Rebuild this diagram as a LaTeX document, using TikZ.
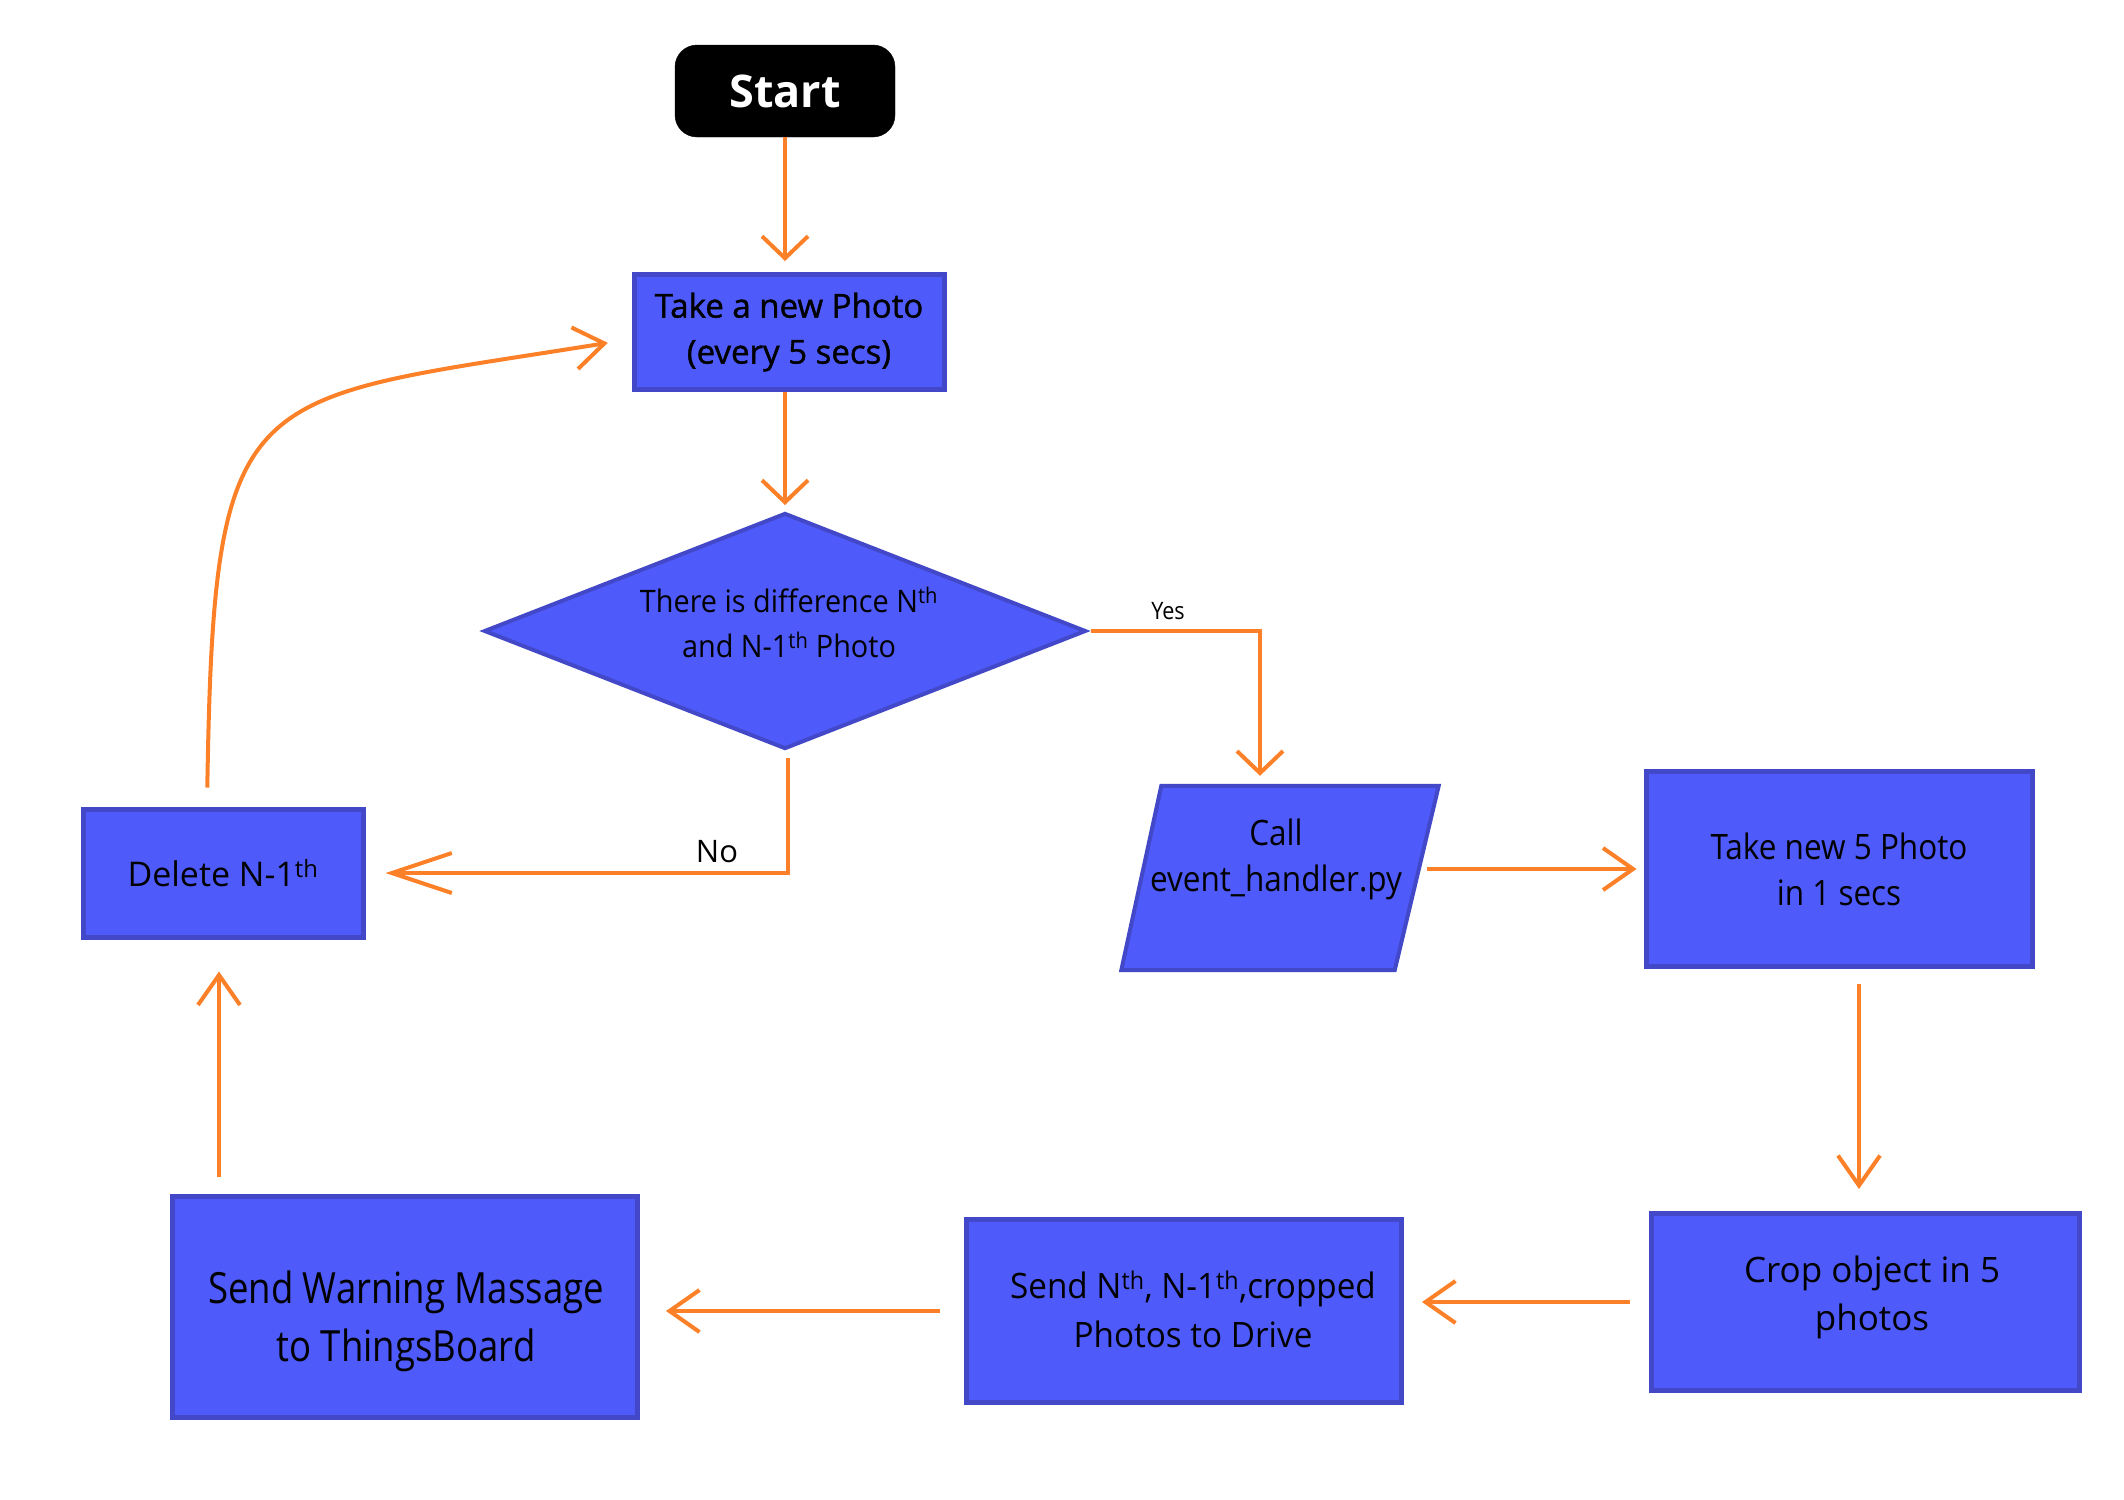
\documentclass[tikz,border=0pt]{standalone}
\usepackage{fontspec}
\setmainfont{Open Sans}
\newfontfamily\condfont[FakeStretch=0.9]{Open Sans}
\newfontfamily\semifont[FakeBold=1.2]{Open Sans}
\usetikzlibrary{arrows.meta,shapes.geometric,calc}
\definecolor{boxfill}{RGB}{78,91,250}
\definecolor{boxline}{RGB}{66,72,200}
\definecolor{flow}{RGB}{252,128,40}
\tikzset{
  procbox/.style={rectangle, fill=boxfill, draw=boxline, line width=5pt, inner sep=0pt, align=center},
  label/.style={align=center, inner sep=0pt},
  flowline/.style={draw=flow, line width=4pt, -{Straight Barb[length=30pt,width=42pt]}},
  shorttip/.style={-{Straight Barb[length=22pt,width=46pt]}},
  longtip/.style={-{Straight Barb[length=60pt,width=40pt]}},
}
\begin{document}
\begin{tikzpicture}[x=1pt,y=-1pt]
\useasboundingbox[fill=white] (0,0) rectangle (2124,1499);

% start terminal
\node[fill=black, draw=black, rounded corners=22pt, minimum width=220pt, minimum height=92pt,
      text=white, font=\bfseries\fontsize{45}{54}\selectfont] (start) at (785,91) {Start};

% photo step
\node[procbox, minimum width=310pt, minimum height=115pt, font=\semifont\fontsize{33}{46}\selectfont]
  (take) at (789,332) {Take a new Photo\\(every 5 secs)};

% decision
\node[diamond, aspect=2.55, fill=boxfill, draw=boxline, line width=4pt, inner sep=0pt,
      minimum width=602pt, minimum height=236pt] (dec) at (785,631) {};
\node[label, font=\addfontfeatures{FakeStretch=0.93}\fontsize{31}{45}\selectfont] (dectext) at (789,622)
  {There is difference N\textsuperscript{th}\\and N-1\textsuperscript{th} Photo};

\node[procbox, minimum width=280pt, minimum height=128pt, font=\fontsize{34}{46}\selectfont]
  (del) at (223,873) {Delete N-1\textsuperscript{th}};

% input/output step: parallelogram around an invisible frame node
\node[rectangle, inner sep=0pt, minimum width=275pt, minimum height=184pt] (call) at (1279,878) {};
\filldraw[fill=boxfill, draw=boxline, line width=4pt, line join=miter]
  ($(call.north west)+(20,0)$) -- ($(call.north east)+(22,0)$)
  -- ($(call.south east)+(-22,0)$) -- ($(call.south west)+(-20,0)$) -- cycle;
\node[label, font=\condfont\fontsize{35}{46}\selectfont] (calltext) at (1276,859)
  {Call\\event\_handler.py};

\node[procbox, minimum width=386pt, minimum height=195pt, font=\condfont\fontsize{35}{46}\selectfont]
  (take5) at (1839,869) {Take new 5 Photo\\in 1 secs};

\node[procbox, minimum width=428pt, minimum height=177pt] (crop) at (1865,1302) {};
\node[label, font=\fontsize{35}{48}\selectfont] (croptext) at (1872,1297) {Crop object in 5\\photos};

\node[procbox, minimum width=435pt, minimum height=183pt] (send) at (1184,1311) {};
\node[label, font=\addfontfeatures{FakeStretch=0.95}\fontsize{35}{49}\selectfont] (sendtext) at (1193,1309)
  {Send N\textsuperscript{th}, N-1\textsuperscript{th},cropped\\Photos to Drive};

\node[procbox, minimum width=465pt, minimum height=221pt] (warn) at (405,1307) {};
\node[label, font=\addfontfeatures{FakeStretch=0.85}\fontsize{43}{58}\selectfont] (warntext) at (406,1321)
  {Send Warning Massage\\to ThingsBoard};

% connectors
\draw[flowline, shorttip, shorten >=11pt] (start.south) -- (start.south |- take.north);
\draw[flowline, shorttip, shorten >=6pt] (take.south -| start.south) -- (start.south |- dec.north);

\draw[flowline, shorttip, shorten <=3pt, shorten >=10pt]
  (dec.east) -| ($(call.north)+(-19,0)$);
\node[font=\condfont\fontsize{24}{28}\selectfont] (yes) at (1168,611) {Yes};

\draw[flowline, longtip, shorten <=7pt, shorten >=20pt]
  ([xshift=3pt]dec.south) |- (del.east);
\node[font=\fontsize{31}{36}\selectfont] (no) at (717,852) {No};

\draw[flowline, shorten <=10pt, shorten >=7pt]
  (call.east |- take5.west) -- (take5.west);

\draw[flowline, shorten <=15pt, shorten >=22pt]
  ([xshift=20pt]take5.south) -- ([xshift=20pt]take5.south |- crop.north);

\draw[flowline, shorten <=19pt, shorten >=18pt]
  (crop.west) -- (crop.west -| send.east);

\draw[flowline, shorten <=24pt, shorten >=26pt]
  (send.west) -- (send.west -| warn.east);

\draw[flowline, shorten <=17pt, shorten >=32pt]
  ([xshift=-4pt]del.south |- warn.north) -- ([xshift=-4pt]del.south);

% loop back to the photo step
\draw[flowline, shorten <=19pt, shorten >=24pt]
  ([xshift=-16pt]del.north) .. controls +(7,-430) and +(-390,63) .. ([yshift=-7pt]take.west);
\end{tikzpicture}
\end{document}
